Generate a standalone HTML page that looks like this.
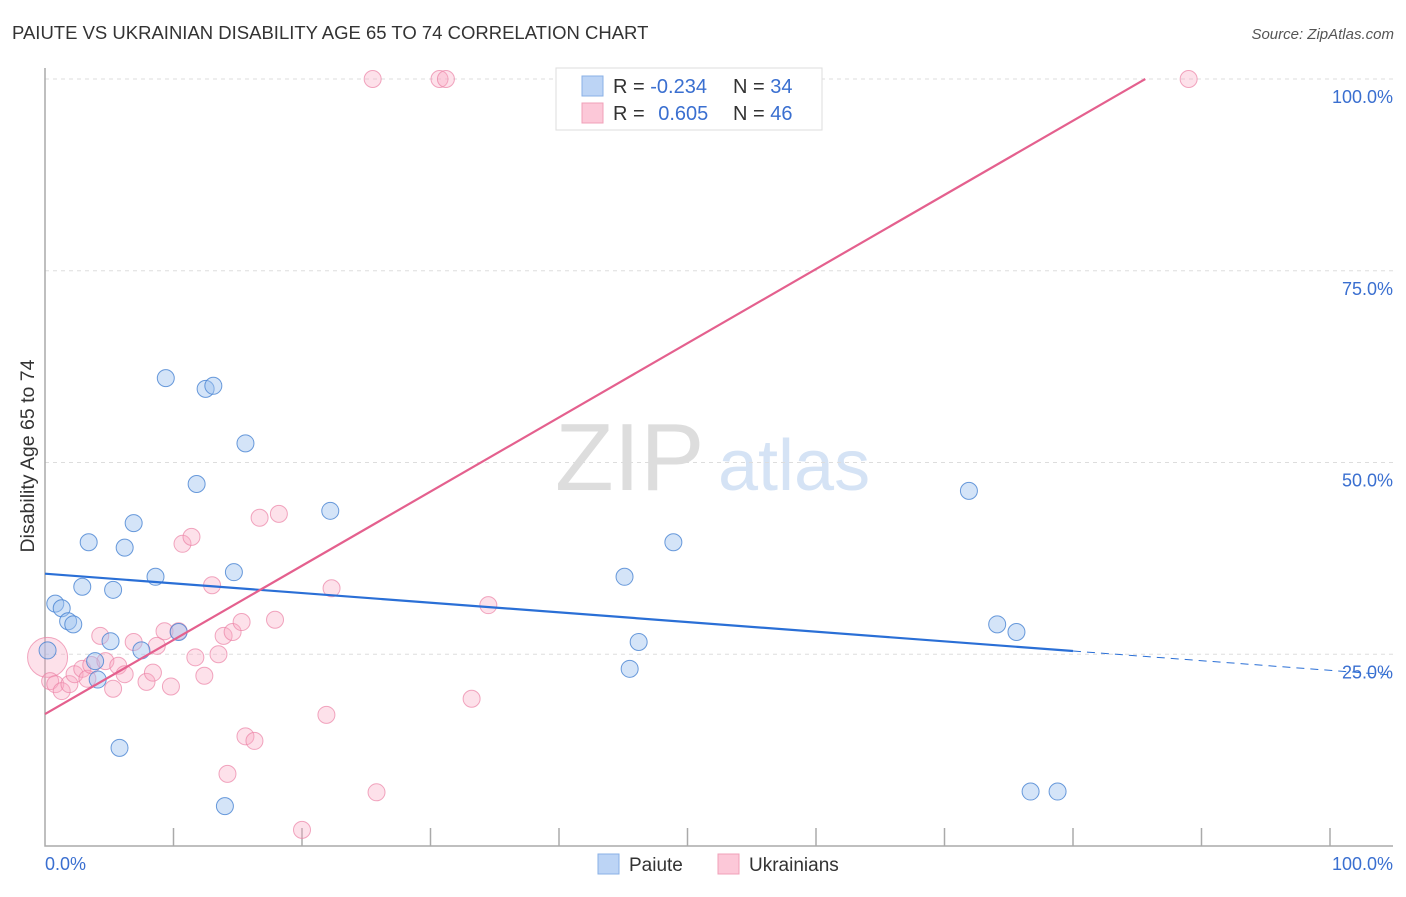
<!DOCTYPE html>
<html><head><meta charset="utf-8"><style>
body{margin:0;background:#fff;font-family:"Liberation Sans",sans-serif}
svg text{font-family:"Liberation Sans",sans-serif}
</style></head><body>
<svg id="c" width="1406" height="892" xmlns="http://www.w3.org/2000/svg">
<text x="12" y="39" font-size="18.5" fill="#333">PAIUTE VS UKRAINIAN DISABILITY AGE 65 TO 74 CORRELATION CHART</text>
<text x="1394" y="39" font-size="15" fill="#555" text-anchor="end" font-style="italic">Source: ZipAtlas.com</text>
<text x="34" y="456" font-size="19.5" fill="#333" text-anchor="middle" transform="rotate(-90 34 456)">Disability Age 65 to 74</text>
<text x="555" y="490" font-size="96" fill="#ddd" font-family="Liberation Serif">ZIP</text>
<text x="718" y="490" font-size="72" fill="#d5e3f5">atlas</text>
<g id="grid"></g><g id="axes"></g><g id="pts"></g><g id="lines"></g>
<g>
<rect x="556" y="68" width="266" height="62" fill="#fff" stroke="#ddd"/>
<rect x="582" y="76" width="21" height="20" fill="#bcd4f5" stroke="#8ab0e6"/>
<rect x="582" y="103" width="21" height="20" fill="#fcc8d8" stroke="#f0a0b8"/>
<text x="613" y="93" font-size="20" fill="#333">R = <tspan fill="#3a6fd0">-0.234</tspan></text>
<text x="733" y="93" font-size="20" fill="#333">N = <tspan fill="#3a6fd0">34</tspan></text>
<text x="613" y="120" font-size="20" fill="#333">R = <tspan fill="#3a6fd0" dx="8">0.605</tspan></text>
<text x="733" y="120" font-size="20" fill="#333">N = <tspan fill="#3a6fd0">46</tspan></text>
</g>
<g>
<rect x="598" y="854" width="21" height="20" fill="#bcd4f5" stroke="#8ab0e6"/>
<text x="629" y="871" font-size="19" fill="#333">Paiute</text>
<rect x="718" y="854" width="21" height="20" fill="#fcc8d8" stroke="#f0a0b8"/>
<text x="749" y="871" font-size="19" fill="#333">Ukrainians</text>
</g>
<text x="45" y="870" font-size="18" fill="#3a6fd0">0.0%</text>
<text x="1393" y="870" font-size="18" fill="#3a6fd0" text-anchor="end">100.0%</text>
</svg>
<script>
const yTicks=[25,50,75,100];
const yTickLabels=["25.0%","50.0%","75.0%","100.0%"];
const paiuteX=[0.2,0.8,1.3,1.8,2.2,2.9,3.4,3.9,4.1,5.1,5.3,5.8,6.2,6.9,7.5,8.6,9.4,10.4,11.8,12.5,13.1,14.0,14.7,15.6,22.2,45.1,45.5,46.2,48.9,71.9,74.1,75.6,76.7,78.8];
const paiuteY=[25.5,31.6,31.0,29.3,28.9,33.8,39.6,24.1,21.7,26.7,33.4,12.8,38.9,42.1,25.5,35.1,61.0,27.9,47.2,59.6,60.0,5.2,35.7,52.5,43.7,35.1,23.1,26.6,39.6,46.3,28.9,27.9,7.1,7.1];
const ukrX=[0.2,0.4,0.8,1.3,1.9,2.3,2.9,3.3,3.6,4.3,4.7,5.3,5.7,6.2,6.9,7.9,8.4,8.7,9.3,9.8,10.4,10.7,11.4,11.7,12.4,13.0,13.5,13.9,14.6,15.3,15.6,16.3,14.2,16.7,18.2,17.9,20.0,21.9,22.3,25.5,25.8,30.7,31.2,34.5,33.2,89.0];
const ukrY=[24.6,21.5,21.1,20.2,21.1,22.4,23.1,21.8,23.6,27.4,24.1,20.5,23.5,22.4,26.6,21.4,22.6,26.1,28.0,20.8,28.0,39.4,40.3,24.6,22.2,34.0,25.0,27.4,27.9,29.2,14.3,13.7,9.4,42.8,43.3,29.5,2.1,17.1,33.6,100,7.0,100,100,31.4,19.2,100];
const paiuteLine=[35.5,-0.126];
const ukrLine=[17.2,0.967];
const X=v=>45+v*12.85, Y=v=>846-v*7.67;
const NS="http://www.w3.org/2000/svg";
function mk(t,a,p){const e=document.createElementNS(NS,t);for(const k in a)e.setAttribute(k,a[k]);document.getElementById(p).appendChild(e);return e;}
yTicks.forEach((t,i)=>{
 const g=mk('line',{x1:45,x2:1393,y1:Y(t),y2:Y(t),stroke:'#ddd','stroke-dasharray':'4,4'},'grid');
 
 
 const l=mk('text',{x:1393,y:Y(t)+24,'font-size':18,fill:'#3a6fd0','text-anchor':'end'},'grid');l.textContent=yTickLabels[i];
 
 
});
const ax=mk('path',{d:'M45 68V846H1393',fill:'none',stroke:'#aaa','stroke-width':1.5},'axes');


for(let i=1;i<=10;i++){const t=mk('line',{x1:X(i*10),x2:X(i*10),y1:828,y2:846,stroke:'#aaa','stroke-width':1.5},'axes');
 
 }
ukrX.forEach((x,i)=>{const c=mk('circle',{cx:X(x),cy:Y(ukrY[i]),r:i==0?20:8.5,fill:'rgba(248,170,195,0.35)',stroke:'rgba(235,130,165,0.7)','stroke-width':1},'pts');
 
 });
paiuteX.forEach((x,i)=>{const c=mk('circle',{cx:X(x),cy:Y(paiuteY[i]),r:8.5,fill:'rgba(160,195,240,0.45)',stroke:'rgba(70,130,210,0.8)','stroke-width':1},'pts');
 
 });
const f=(l,x)=>l[0]+l[1]*x;
let e=mk('line',{x1:X(0),y1:Y(f(paiuteLine,0)),x2:X(80),y2:Y(f(paiuteLine,80)),stroke:'#2a6fd6','stroke-width':2.2},'lines');


e=mk('line',{x1:X(80),y1:Y(f(paiuteLine,80)),x2:X(104.9),y2:Y(f(paiuteLine,104.9)),stroke:'#2a6fd6','stroke-width':1,'stroke-dasharray':'8,6'},'lines');


const xe=(100-ukrLine[0])/ukrLine[1];
e=mk('line',{x1:X(0),y1:Y(f(ukrLine,0)),x2:X(xe),y2:Y(100),stroke:'#e4608e','stroke-width':2.2},'lines');


</script>
</body></html>
